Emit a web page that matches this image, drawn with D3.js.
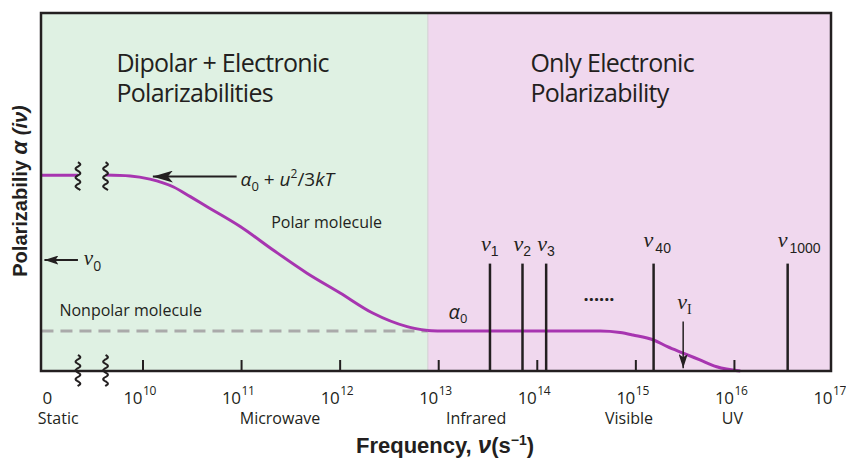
<!DOCTYPE html>
<html>
<head>
<meta charset="utf-8">
<script src="https://cdn.jsdelivr.net/npm/d3@7"></script>
<style>
  body { margin: 0; background: #fff; }
  text { font-family: "Open Sans", sans-serif; fill: #231f20; }
</style>
</head>
<body>
<script>
// curve values: [log10 of frequency, polarizability in arbitrary units]
const staticCurve = [[8.97, 5.47], [9.34, 5.47]];
const polarCurve = [[9.62, 5.475], [9.87, 5.45], [10.07, 5.36], [10.31, 5.14], [10.48, 4.87], [10.65, 4.59],
  [10.99, 4.03], [11.32, 3.38], [11.66, 2.74], [12.0, 2.18], [12.33, 1.62], [12.68, 1.24], [12.89, 1.13]];
const electronicCurve = [[12.89, 1.13], [13.01, 1.117], [14.64, 1.117], [14.84, 1.075], [14.97, 1.006],
  [15.18, 0.866], [15.32, 0.68], [15.48, 0.5], [15.65, 0.31], [15.82, 0.12], [16.06, 0]];
const nonpolarLine = [[8.97, 1.117], [12.89, 1.117]];

// resonance lines (log10 frequency) and their subscripts
const resonanceK = [13.52, 13.85, 14.09, 15.18, 16.54];
const resonanceSub = ["1", "2", "3", "40", "1000"];
const resonanceTop = 3.0;
const ionK = 15.48, ionFrom = 1.38, ionTo = 0.08;

const decades = [10, 11, 12, 13, 14, 15, 16, 17];
const bandNames = ["Static", "Microwave", "Infrared", "Visible", "UV"];
const bandK = [9.14, 11.39, 13.38, 14.93, 15.98];
const staticK = 9.03;      // where "0" sits
const breakK = [9.34, 9.62];
const splitK = 12.89;      // dipolar / electronic boundary

const width = 846, height = 458;
const plotL = 41, plotR = 831, plotT = 13, plotB = 371;

const x = d3.scaleLog().domain([1e10, 1e17]).range([143, 833]);
const y = d3.scaleLinear().domain([0, 10]).range([plotB, plotT]);
const X = k => x(Math.pow(10, k));

const svg = d3.select('body').append('svg')
  .attr('width', width)
  .attr('height', height);

const defs = svg.append('defs');
defs.append('marker').attr('id', 'big').attr('viewBox', '0 0 20 12')
  .attr('refX', 20).attr('refY', 6).attr('markerWidth', 20).attr('markerHeight', 12)
  .attr('markerUnits', 'userSpaceOnUse').attr('orient', 'auto')
  .append('path').attr('d', 'M0,0 L20,6 L0,12 L5,6 Z').attr('fill', '#231f20');
defs.append('marker').attr('id', 'small').attr('viewBox', '0 0 14 9')
  .attr('refX', 14).attr('refY', 4.5).attr('markerWidth', 14).attr('markerHeight', 9)
  .attr('markerUnits', 'userSpaceOnUse').attr('orient', 'auto')
  .append('path').attr('d', 'M0,0 L14,4.5 L0,9 L3,4.5 Z').attr('fill', '#231f20');

// background regions
svg.append('rect').attr('x', plotL).attr('y', plotT)
  .attr('width', X(splitK) - plotL).attr('height', plotB - plotT).attr('fill', '#dff1e3');
svg.append('rect').attr('x', X(splitK)).attr('y', plotT)
  .attr('width', plotR - X(splitK)).attr('height', plotB - plotT).attr('fill', '#f0d8ee');
svg.append('line').attr('x1', X(splitK)).attr('x2', X(splitK)).attr('y1', plotT).attr('y2', plotB)
  .attr('stroke', '#d2cfd2').attr('stroke-width', 1);

const line = d3.line().x(d => X(d[0])).y(d => y(d[1])).curve(d3.curveMonotoneX);

// nonpolar dashed
svg.append('path').attr('d', line(nonpolarLine)).attr('fill', 'none')
  .attr('stroke', '#aaaaaa').attr('stroke-width', 3).attr('stroke-dasharray', '12,7');

// curve
[staticCurve, polarCurve, electronicCurve].forEach(c => {
  svg.append('path').attr('d', line(c)).attr('fill', 'none')
    .attr('stroke', '#a735b0').attr('stroke-width', 3);
});

// resonance lines
svg.selectAll('line.res').data(resonanceK).enter().append('line')
  .attr('class', 'res')
  .attr('x1', d => X(d)).attr('x2', d => X(d))
  .attr('y1', y(resonanceTop)).attr('y2', y(0))
  .attr('stroke', '#231f20').attr('stroke-width', 2.5);

const resLabels = svg.selectAll('text.res').data(resonanceK).enter().append('text')
  .attr('class', 'res')
  .attr('x', (d, i) => X(d) - (i < 3 ? 9 : 10))
  .attr('y', (d, i) => y(resonanceTop) - (i < 3 ? 13 : 17));
resLabels.append('tspan').text('ν')
  .style('font-family', '"Liberation Serif", serif').style('font-style', 'italic').style('font-size', '22px');
resLabels.append('tspan').text((d, i) => resonanceSub[i])
  .attr('dy', (d, i) => i < 3 ? 5 : 6).attr('dx', (d, i) => i < 3 ? 0 : 2)
  .style('font-family', '"Liberation Sans", Arial, sans-serif').style('font-size', '14px');

// ionization arrow
svg.append('line').attr('x1', X(ionK)).attr('x2', X(ionK))
  .attr('y1', y(ionFrom)).attr('y2', y(ionTo))
  .attr('stroke', '#231f20').attr('stroke-width', 1.5).attr('marker-end', 'url(#small)');
const ionLabel = svg.append('text').attr('x', X(ionK) - 6).attr('y', y(ionFrom) - 13);
ionLabel.append('tspan').text('ν')
  .style('font-family', '"Liberation Serif", serif').style('font-style', 'italic').style('font-size', '22px');
ionLabel.append('tspan').text('I').attr('dy', 5)
  .style('font-family', '"Liberation Serif", serif').style('font-size', '14px');

// dots
svg.append('text').attr('x', X(14.47)).attr('y', y(1.95)).text('......')
  .style('font-size', '18px').style('font-weight', 'bold');

// frame
svg.append('rect').attr('x', plotL).attr('y', plotT)
  .attr('width', plotR - plotL).attr('height', plotB - plotT)
  .attr('fill', 'none').attr('stroke', '#231f20').attr('stroke-width', 2.5);

// ticks
svg.selectAll('line.tick').data(decades.slice(0, -1)).enter().append('line')
  .attr('x1', d => x(Math.pow(10, d))).attr('x2', d => x(Math.pow(10, d)))
  .attr('y1', plotB).attr('y2', plotB - 11)
  .attr('stroke', '#231f20').attr('stroke-width', 2);

// tick labels
const tl = svg.selectAll('g.tl').data(decades).enter().append('g');
tl.append('text').attr('x', d => x(Math.pow(10, d)) - 1).attr('y', 404)
  .attr('text-anchor', 'end').style('font-size', '17px').style('letter-spacing', '-0.5px').text('10');
tl.append('text').attr('x', d => x(Math.pow(10, d))).attr('y', 395)
  .style('font-size', '12px').style('letter-spacing', '-0.3px').text(d => d);
svg.append('text').attr('x', X(staticK)).attr('y', 404).attr('text-anchor', 'middle')
  .style('font-size', '17px').text('0');

svg.selectAll('text.band').data(bandNames).enter().append('text')
  .attr('x', (d, i) => X(bandK[i])).attr('y', 424).attr('text-anchor', 'middle')
  .style('font-size', '16px').text(d => d);

// axis breaks (squiggles)
function squiggle(cx, y0, y1) {
  const pts = [];
  for (let t = y0; t <= y1; t += 1) pts.push([cx + 2.6 * Math.sin((t - y0) / 4.4 * Math.PI), t]);
  return d3.line().curve(d3.curveBasis)(pts);
}
breakK.forEach(k => {
  svg.append('path').attr('d', squiggle(X(k), y(5.47) - 13, y(5.47) + 15))
    .attr('fill', 'none').attr('stroke', '#231f20').attr('stroke-width', 2);
  svg.append('path').attr('d', squiggle(X(k), plotB - 16, plotB + 15))
    .attr('fill', 'none').attr('stroke', '#231f20').attr('stroke-width', 2);
});

// annotations
svg.append('line').attr('x1', X(10.95)).attr('x2', X(10.1))
  .attr('y1', y(5.43)).attr('y2', y(5.43))
  .attr('stroke', '#231f20').attr('stroke-width', 2).attr('marker-end', 'url(#big)');
const formula = svg.append('text').attr('x', X(10.99)).attr('y', y(5.17))
  .style('font-size', '19px').style('font-style', 'italic');
formula.append('tspan').text('α');
formula.append('tspan').text('0').attr('dy', 5).style('font-size', '13px').style('font-style', 'normal');
formula.append('tspan').text(' + ').attr('dy', -5).style('font-style', 'normal');
formula.append('tspan').text('u');
formula.append('tspan').text('2').attr('dy', -8).style('font-size', '12px').style('font-style', 'normal');
formula.append('tspan').text('/3').attr('dy', 8).style('font-style', 'normal');
formula.append('tspan').text('kT');

svg.append('text').attr('x', X(11.3)).attr('y', y(3.99))
  .style('font-size', '16px').text('Polar molecule');
svg.append('text').attr('x', X(9.152)).attr('y', y(1.536))
  .style('font-size', '16px').text('Nonpolar molecule');

svg.append('line').attr('x1', X(9.34)).attr('x2', X(9.0))
  .attr('y1', y(3.1)).attr('y2', y(3.1))
  .attr('stroke', '#231f20').attr('stroke-width', 1.8).attr('marker-end', 'url(#small)');
const nu0 = svg.append('text').attr('x', X(9.4)).attr('y', y(2.96));
nu0.append('tspan').text('ν')
  .style('font-family', '"Liberation Serif", serif').style('font-style', 'italic').style('font-size', '21px');
nu0.append('tspan').text('0').attr('dy', 6).style('font-size', '14px');

const a0 = svg.append('text').attr('x', X(13.1)).attr('y', y(1.45))
  .style('font-size', '20px').style('font-style', 'italic');
a0.append('tspan').text('α');
a0.append('tspan').text('0').attr('dy', 4).style('font-size', '13px').style('font-style', 'normal');

// region titles
[[9.73, ['Dipolar + Electronic', 'Polarizabilities']], [13.93, ['Only Electronic', 'Polarizability']]]
  .forEach(([k, lines]) => {
    const t = svg.append('text').attr('y', 72)
      .style('font-size', '25px').style('letter-spacing', '-0.7px');
    lines.forEach((s, i) => {
      t.append('tspan').attr('x', X(k)).attr('dy', i ? 29.7 : 0).text(s);
    });
  });

// axis titles
const xt = svg.append('text').attr('x', 445).attr('y', 453).attr('text-anchor', 'middle')
  .style('font-family', '"Liberation Sans", Arial, sans-serif').style('font-weight', 'bold').style('font-size', '22px');
xt.append('tspan').text('Frequency, ');
xt.append('tspan').text('ν').style('font-style', 'italic').style('font-size', '24px');
xt.append('tspan').text('(s');
xt.append('tspan').text('−1').attr('dy', -8).style('font-size', '14px');
xt.append('tspan').text(')').attr('dy', 8);

const yt = svg.append('text').attr('transform', 'translate(27,191) rotate(-90)').attr('text-anchor', 'middle')
  .style('font-family', '"Liberation Sans", Arial, sans-serif').style('font-weight', 'bold').style('font-size', '20px');
yt.append('tspan').text('Polarizabiliy ');
yt.append('tspan').text('α').style('font-style', 'italic').style('font-size', '22px');
yt.append('tspan').text(' (iν)').style('font-style', 'italic');
</script>
</body>
</html>
